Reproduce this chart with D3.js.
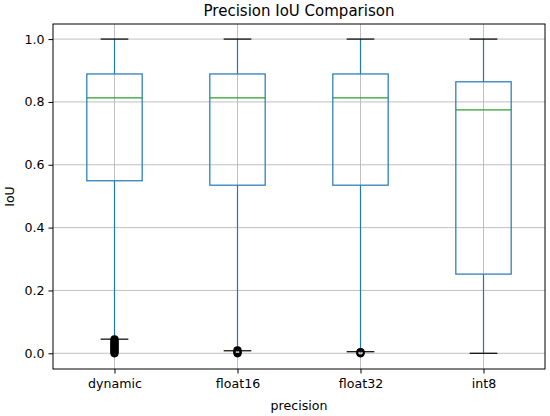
<!DOCTYPE html>
<html>
<head>
<meta charset="UTF-8">
<title>Precision IoU Comparison</title>
<style>
	body { margin: 0; background: #fff; }
	text { font-family: "DejaVu Sans", sans-serif; fill: #000; }
</style>
</head>
<body>
<script src="https://cdn.jsdelivr.net/npm/d3@7"></script>
<script>
	var categories = ["dynamic", "float16", "float32", "int8"];
	var q1 = [0.549, 0.535, 0.535, 0.252];
	var median = [0.813, 0.813, 0.813, 0.775];
	var q3 = [0.889, 0.889, 0.889, 0.864];
	var whiskerLow = [0.045, 0.008, 0.005, 0.0];
	var whiskerHigh = [1.0, 1.0, 1.0, 1.0];
	var fliers = [
		[0.0, 0.004, 0.008, 0.012, 0.016, 0.02, 0.024, 0.028, 0.032, 0.036, 0.04, 0.044],
		[0.0, 0.003, 0.006, 0.009],
		[0.0, 0.002, 0.004],
		[]
	];
	var yTicks = [0.0, 0.2, 0.4, 0.6, 0.8, 1.0];

	var width = 550, height = 416;
	var margin = {top: 24, right: 5, bottom: 47, left: 53};

	var svg = d3.select("body").append("svg")
		.attr("width", width)
		.attr("height", height);

	var x = d3.scaleLinear()
		.domain([0.5, 4.5])
		.range([margin.left, width - margin.right]);
	var y = d3.scaleLinear()
		.domain([-0.05, 1.048])
		.range([height - margin.bottom, margin.top]);

	var boxW = x(1.45) - x(1);
	var capW = boxW / 2;

	// grid
	var grid = svg.append("g").attr("stroke", "#b0b0b0").attr("stroke-width", 0.8);
	grid.selectAll(".gy").data(yTicks).enter().append("line")
		.attr("x1", x.range()[0]).attr("x2", x.range()[1])
		.attr("y1", function(d) { return y(d); })
		.attr("y2", function(d) { return y(d); });
	grid.selectAll(".gx").data(categories).enter().append("line")
		.attr("x1", function(d, i) { return x(i + 1); })
		.attr("x2", function(d, i) { return x(i + 1); })
		.attr("y1", y.range()[0]).attr("y2", y.range()[1]);

	var boxes = svg.append("g").selectAll("g").data(categories).enter().append("g");

	boxes.each(function(d, i) {
		var g = d3.select(this);
		var cx = x(i + 1);
		// whiskers
		g.append("line").attr("x1", cx).attr("x2", cx)
			.attr("y1", y(q3[i])).attr("y2", y(whiskerHigh[i]))
			.attr("stroke", "#1f77b4").attr("stroke-width", 1.2);
		g.append("line").attr("x1", cx).attr("x2", cx)
			.attr("y1", y(q1[i])).attr("y2", y(whiskerLow[i]))
			.attr("stroke", "#1f77b4").attr("stroke-width", 1.2);
		// caps
		[whiskerHigh[i], whiskerLow[i]].forEach(function(v) {
			g.append("line").attr("x1", cx - capW / 2).attr("x2", cx + capW / 2)
				.attr("y1", y(v)).attr("y2", y(v))
				.attr("stroke", "#000").attr("stroke-width", 1.2);
		});
		// box
		g.append("rect")
			.attr("x", cx - boxW / 2).attr("width", boxW)
			.attr("y", y(q3[i])).attr("height", y(q1[i]) - y(q3[i]))
			.attr("fill", "none").attr("stroke", "#1f77b4").attr("stroke-width", 1.2);
		// median
		g.append("line").attr("x1", cx - boxW / 2).attr("x2", cx + boxW / 2)
			.attr("y1", y(median[i])).attr("y2", y(median[i]))
			.attr("stroke", "#2ca02c").attr("stroke-width", 1.2);
		// fliers
		g.selectAll("circle").data(fliers[i]).enter().append("circle")
			.attr("cx", cx).attr("cy", function(v) { return y(v); })
			.attr("r", 3.3)
			.attr("fill", "none").attr("stroke", "#000").attr("stroke-width", 1.6);
	});

	// frame
	svg.append("rect")
		.attr("x", x.range()[0]).attr("y", y.range()[1])
		.attr("width", x.range()[1] - x.range()[0])
		.attr("height", y.range()[0] - y.range()[1])
		.attr("fill", "none").attr("stroke", "#000").attr("stroke-width", 1);

	// axes
	var yAxis = svg.append("g")
		.attr("transform", "translate(" + margin.left + ",0)")
		.call(d3.axisLeft(y).tickValues(yTicks).tickFormat(d3.format(".1f")).tickSizeOuter(0).tickSize(4.5).tickPadding(4));
	var xAxis = svg.append("g")
		.attr("transform", "translate(0," + (height - margin.bottom) + ")")
		.call(d3.axisBottom(x).tickValues([1, 2, 3, 4]).tickFormat(function(d) { return categories[d - 1]; }).tickSizeOuter(0).tickSize(4.5).tickPadding(6));
	[xAxis, yAxis].forEach(function(a) {
		a.select(".domain").remove();
		a.selectAll("text").style("font-size", "12.6px").style("font-family", "DejaVu Sans, sans-serif").attr("fill", "#000");
		a.selectAll("line").attr("stroke", "#000");
	});

	svg.append("text")
		.attr("x", (x.range()[0] + x.range()[1]) / 2)
		.attr("y", 16)
		.attr("text-anchor", "middle")
		.style("font-size", "15px")
		.text("Precision IoU Comparison");
	svg.append("text")
		.attr("x", (x.range()[0] + x.range()[1]) / 2)
		.attr("y", 410)
		.attr("text-anchor", "middle")
		.style("font-size", "12.6px")
		.text("precision");
	svg.append("text")
		.attr("transform", "translate(14," + ((y.range()[0] + y.range()[1]) / 2) + ") rotate(-90)")
		.attr("text-anchor", "middle")
		.style("font-size", "12.6px")
		.text("IoU");
</script>
</body>
</html>
